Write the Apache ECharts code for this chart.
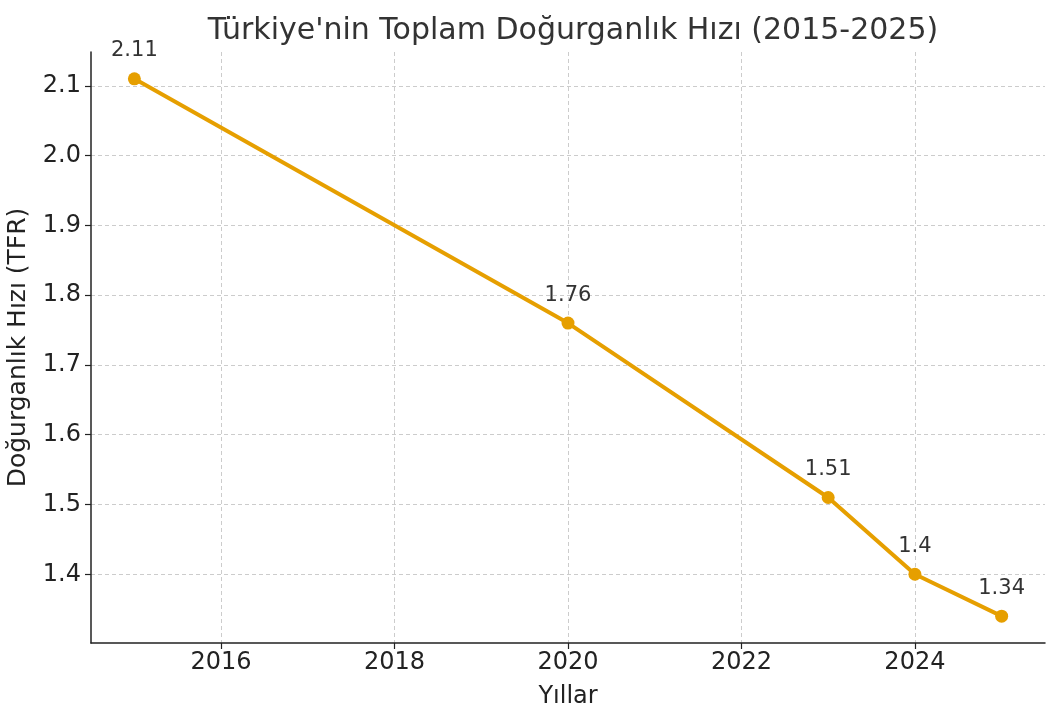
<!DOCTYPE html>
<html>
<head>
<meta charset="utf-8">
<script src="https://cdn.jsdelivr.net/npm/echarts@6/dist/echarts.min.js"></script>
<style>
  html, body { margin: 0; padding: 0; background: #fff; }
  #chart { width: 1059px; height: 720px; }
</style>
</head>
<body>
<div id="chart"></div>
<script>
// yıllar ve doğurganlık hızı
const years = [2015, 2020, 2023, 2024, 2025];
const tfr = [2.11, 1.76, 1.51, 1.4, 1.34];
const xTicks = [2016, 2018, 2020, 2022, 2024];
const yTicks = [1.4, 1.5, 1.6, 1.7, 1.8, 1.9, 2.0, 2.1];

const font = "DejaVu Sans";
const orange = "#e69f00";

let chart = echarts.init(document.getElementById("chart"));
let option = {
  backgroundColor: "#fff",
  title: {
    text: "Türkiye'nin Toplam Doğurganlık Hızı (2015-2025)",
    left: 568,
    textAlign: "center",
    top: 11,
    textStyle: { fontFamily: font, fontSize: 30, fontWeight: "normal", color: "#333" }
  },
  grid: { left: 91, right: 14, top: 52, bottom: 77, containLabel: false, outerBoundsMode: "none" },
  xAxis: {
    type: "value",
    min: 2014.5,
    max: 2025.5,
    name: "Yıllar",
    nameLocation: "middle",
    nameGap: 42,
    nameTextStyle: { fontFamily: font, fontSize: 24, color: "#222" },
    axisLine: { show: true, lineStyle: { color: "#222", width: 1.5 } },
    axisTick: { show: true, customValues: xTicks, length: 6, lineStyle: { color: "#222", width: 1.2 } },
    axisLabel: {
      customValues: xTicks,
      fontFamily: font,
      fontSize: 24,
      color: "#222",
      margin: 8,
      formatter: function(v) {
        return String(v);
      }
    },
    splitLine: { show: true, lineStyle: { color: "#cccccc", type: [4, 3], width: 1 } }
  },
  yAxis: {
    type: "value",
    min: 1.3015,
    max: 2.1485,
    name: "Doğurganlık Hızı (TFR)",
    nameLocation: "middle",
    nameGap: 60,
    nameTextStyle: { fontFamily: font, fontSize: 25, color: "#222" },
    axisLine: { show: true, lineStyle: { color: "#222", width: 1.5 } },
    axisTick: { show: true, customValues: yTicks, length: 6, lineStyle: { color: "#222", width: 1.2 } },
    axisLabel: {
      customValues: yTicks,
      fontFamily: font,
      fontSize: 24,
      color: "#222",
      margin: 10,
      formatter: function(v) {
        return v.toFixed(1);
      }
    },
    splitLine: { show: true, lineStyle: { color: "#cccccc", type: [4, 3], width: 1 } }
  },
  series: [
    {
      type: "line",
      data: years.map((y, i) => [y, tfr[i]]),
      symbol: "circle",
      symbolSize: 13,
      lineStyle: { color: orange, width: 4 },
      itemStyle: { color: orange },
      label: {
        show: true,
        position: "top",
        distance: 11,
        fontFamily: font,
        fontSize: 21,
        color: "#333",
        formatter: function(p) {
          return String(p.value[1]);
        }
      },
      animation: false
    }
  ]
};
chart.setOption(option);
</script>
</body>
</html>
